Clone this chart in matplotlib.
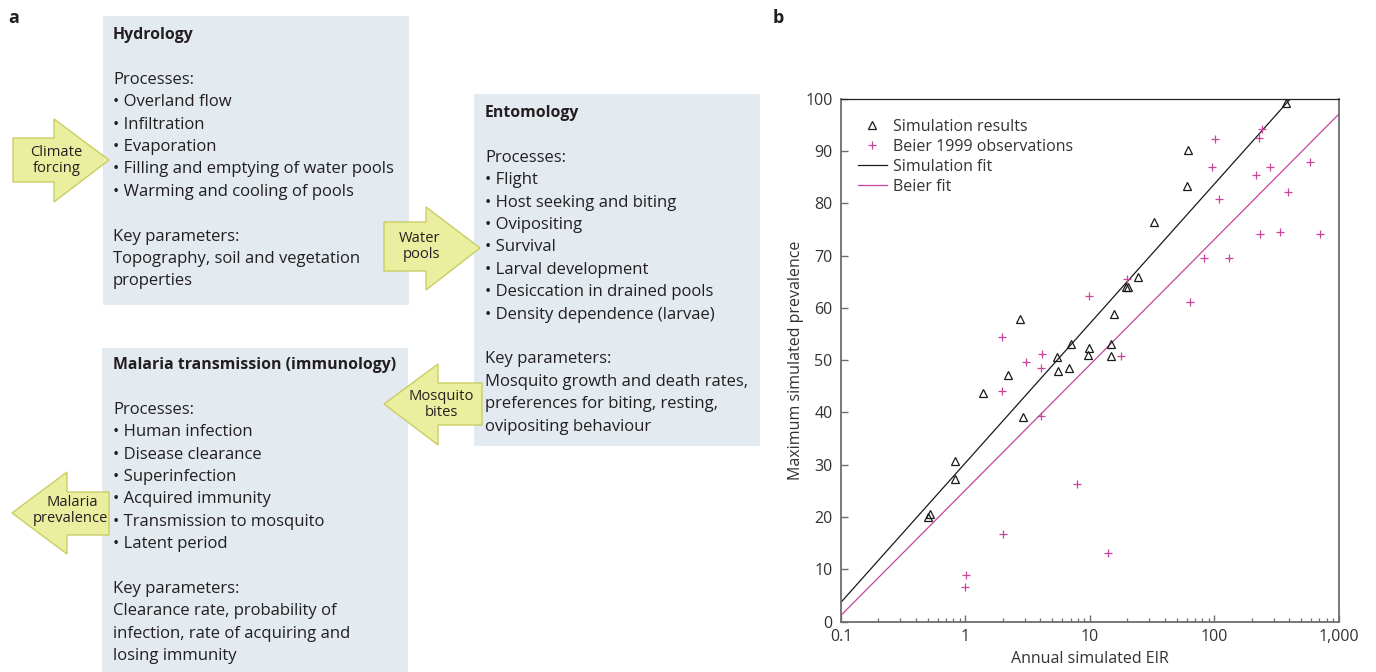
import matplotlib
matplotlib.use('Agg')
import matplotlib.pyplot as plt
from matplotlib.patches import Rectangle, Polygon
from matplotlib.ticker import FixedLocator, LogLocator, NullFormatter, FixedFormatter
from matplotlib.lines import Line2D

plt.rcParams['font.family'] = ['Open Sans', 'DejaVu Sans']

# ---------------- data (panel b) ----------------
sim_eir = [0.5, 0.52, 0.82, 0.83, 1.38, 2.19, 2.74, 2.91, 5.4, 5.56, 6.82, 7.0,
           9.6, 9.87, 14.8, 14.9, 15.6, 19.5, 20.3, 24.4, 32.9, 60.1, 61.2, 380]
sim_prev = [20.0, 20.5, 27.2, 30.8, 43.7, 47.2, 57.9, 39.2, 50.5, 47.9, 48.5, 53.0,
            51.0, 52.4, 50.8, 53.0, 58.9, 63.9, 63.9, 65.8, 76.5, 83.2, 90.1, 99.1]
beier_eir = [0.99, 1.02, 2.0, 1.98, 1.98, 3.04, 4.04, 4.06, 4.12, 7.9, 9.87, 13.9,
             17.7, 19.9, 63.9, 82.8, 95.5, 102, 109, 132, 218, 229, 235, 242,
             279, 336, 392, 585, 703]
beier_prev = [6.6, 8.9, 16.7, 44.0, 54.4, 49.6, 39.3, 48.4, 51.1, 26.4, 62.3, 13.2,
              50.8, 65.5, 61.1, 69.5, 86.9, 92.3, 80.8, 69.5, 85.4, 92.4, 74.2, 94.1,
              87.0, 74.4, 82.2, 87.9, 74.1]
fit_eir = [0.1, 1000]
sim_fit_prev = [3.7, 110.3]
beier_fit_prev = [1.2, 97.0]

x_ticks = [0.1, 1, 10, 100, 1000]
x_tick_labels = ['0.1', '1', '10', '100', '1,000']
y_ticks = [0, 10, 20, 30, 40, 50, 60, 70, 80, 90, 100]
legend_labels = ['Simulation results', 'Beier 1999 observations', 'Simulation fit', 'Beier fit']

# ---------------- text (panel a) ----------------
hydro_title = 'Hydrology'
hydro_lines = ['', 'Processes:', '• Overland flow', '• Infiltration', '• Evaporation',
               '• Filling and emptying of water pools', '• Warming and cooling of pools', '',
               'Key parameters:', 'Topography, soil and vegetation', 'properties']
ento_title = 'Entomology'
ento_lines = ['', 'Processes:', '• Flight', '• Host seeking and biting', '• Ovipositing',
              '• Survival', '• Larval development', '• Desiccation in drained pools',
              '• Density dependence (larvae)', '', 'Key parameters:',
              'Mosquito growth and death rates,', 'preferences for biting, resting,',
              'ovipositing behaviour']
mal_title = 'Malaria transmission (immunology)'
mal_lines = ['', 'Processes:', '• Human infection', '• Disease clearance', '• Superinfection',
             '• Acquired immunity', '• Transmission to mosquito', '• Latent period', '',
             'Key parameters:', 'Clearance rate, probability of',
             'infection, rate of acquiring and', 'losing immunity']
arrow_labels = [['Climate', 'forcing'], ['Water', 'pools'], ['Mosquito', 'bites'],
                ['Malaria', 'prevalence']]

# ---------------- styling ----------------
BOX = '#e3eaf0'
ARROW_FC = '#eaee9f'
ARROW_EC = '#c9cd63'
TXT = '#231f20'
MAG = '#c8449c'
AX_GRAY = '#6d6d6d'

fig = plt.figure(figsize=(13.76, 6.72), dpi=100)
fig.patch.set_facecolor('white')

bg = fig.add_axes([0, 0, 1, 1])
bg.set_xlim(0, 1376)
bg.set_ylim(672, 0)
bg.axis('off')

# boxes
boxes = [(103, 16, 409, 305), (474, 94, 760, 446), (102, 348, 408, 672)]
for x0, y0, x1, y1 in boxes:
    bg.add_patch(Rectangle((x0, y0), x1 - x0, y1 - y0, facecolor=BOX, edgecolor='none', zorder=1))

FS = 12
STEP = 22.4


def draw_text_block(x, y_title, title, lines):
    bg.text(x, y_title, title, fontsize=11.4, fontweight='bold', color=TXT, va='center', ha='left', zorder=5)
    for i, ln in enumerate(lines):
        if ln:
            bg.text(x, y_title + STEP * (i + 1), ln, fontsize=FS, color=TXT, va='center', ha='left', zorder=5)


draw_text_block(113, 35, hydro_title, hydro_lines)
draw_text_block(485, 113, ento_title, ento_lines)
draw_text_block(113, 365, mal_title, mal_lines)

# arrows
arrows = [
    [(13, 138), (54, 138), (54, 119), (109, 160), (54, 202), (54, 182), (13, 182)],
    [(384, 222), (426, 222), (426, 207), (480, 248), (426, 290), (426, 271), (384, 271)],
    [(384, 404), (438, 364), (438, 383), (482, 383), (482, 425), (438, 425), (438, 445)],
    [(12, 513), (67, 472), (67, 492), (109, 492), (109, 535), (67, 535), (67, 554)],
]
arrow_text_pos = [[(56.5, 152), (56.5, 168)], [(420, 239), (421, 255)],
                  [(441, 396.5), (441, 412.5)], [(72.5, 502.5), (70, 519)]]
for pts, lbls, pos in zip(arrows, arrow_labels, arrow_text_pos):
    bg.add_patch(Polygon(pts, closed=True, facecolor=ARROW_FC, edgecolor=ARROW_EC, lw=1.0, zorder=3))
    for lb, (tx, ty) in zip(lbls, pos):
        bg.text(tx, ty, lb, fontsize=10.6, color=TXT, ha='center', va='center', zorder=6)

# panel labels
bg.text(14, 18, 'a', fontsize=13, fontweight='bold', color=TXT, ha='center', va='center')
bg.text(778, 18, 'b', fontsize=13, fontweight='bold', color=TXT, ha='center', va='center')

# ---------------- panel b ----------------
ax = fig.add_axes([841 / 1376, 1 - 621.6 / 672, (1338.7 - 841) / 1376, (621.6 - 98.6) / 672])
ax.set_xscale('log')
ax.set_xlim(0.1, 1000)
ax.set_ylim(0, 100)

ax.plot(fit_eir, sim_fit_prev, color='#1a1a1a', lw=0.9, zorder=2)
ax.plot(fit_eir, beier_fit_prev, color=MAG, lw=0.9, zorder=2)
ax.plot(sim_eir, sim_prev, linestyle='none', marker='^', markersize=5.5, markerfacecolor='none',
        markeredgecolor='#1a1a1a', markeredgewidth=0.9, zorder=3)
ax.plot(beier_eir, beier_prev, linestyle='none', marker='+', markersize=5.5,
        markeredgecolor=MAG, markeredgewidth=0.9, zorder=3)

ax.xaxis.set_major_locator(FixedLocator(x_ticks))
ax.xaxis.set_major_formatter(FixedFormatter(x_tick_labels))
ax.xaxis.set_minor_locator(LogLocator(base=10, subs=[2, 3, 4, 5, 6, 7, 8, 9]))
ax.xaxis.set_minor_formatter(NullFormatter())
ax.yaxis.set_major_locator(FixedLocator(y_ticks))

ax.tick_params(axis='both', which='major', direction='in', length=5, width=1.0,
               color=AX_GRAY, labelsize=11.5, labelcolor='#333333')
ax.tick_params(axis='x', which='major', pad=5.5)
ax.tick_params(axis='x', which='minor', direction='in', length=3, width=0.9, color=AX_GRAY)
ax.tick_params(axis='y', which='major', pad=6)

for side in ['left', 'bottom', 'right']:
    ax.spines[side].set_color(AX_GRAY)
    ax.spines[side].set_linewidth(1.3)
ax.spines['top'].set_color('#222222')
ax.spines['top'].set_linewidth(0.9)

ax.set_xlabel('Annual simulated EIR', fontsize=11.5, color='#333333', labelpad=4)
ax.set_ylabel('Maximum simulated prevalence', fontsize=11.5, color='#333333', labelpad=1)

handles = [
    Line2D([], [], linestyle='none', marker='^', markersize=5.5, markerfacecolor='none',
           markeredgecolor='#1a1a1a', markeredgewidth=0.9),
    Line2D([], [], linestyle='none', marker='+', markersize=5.5, markeredgecolor=MAG, markeredgewidth=0.9),
    Line2D([], [], color='#1a1a1a', lw=0.9),
    Line2D([], [], color=MAG, lw=0.9),
]
leg = ax.legend(handles, legend_labels, loc='upper left', bbox_to_anchor=(0.015, 0.98),
                frameon=False, fontsize=11.5, handlelength=1.8, handletextpad=0.4,
                labelspacing=0.25, borderaxespad=0.2)
for t in leg.get_texts():
    t.set_color('#333333')

fig.savefig('out.png', dpi=100)
